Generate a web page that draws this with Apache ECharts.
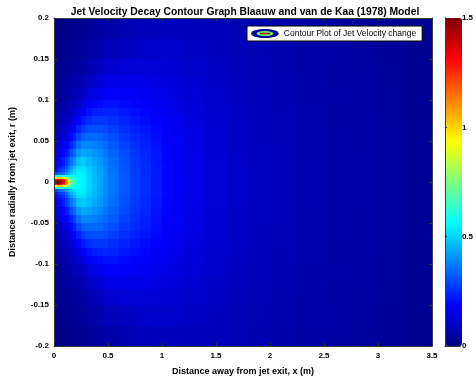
<!DOCTYPE html>
<html><head><meta charset="utf-8">
<script src="https://cdn.jsdelivr.net/npm/echarts@6/dist/echarts.min.js"></script>
<style>html,body{margin:0;padding:0;background:#fff}#c{width:476px;height:383px}</style>
</head><body><div id="c"></div>
<script>
// Column edges along the jet axis (m) and radial band edges (m, upper half; the field is symmetric about r = 0)
const xEdges = [0,0.025,0.05,0.075,0.1,0.125,0.15,0.175,0.2,0.25,0.3,0.35,0.4,0.45,0.5,0.6,0.7,0.8,0.9,1.0,1.1,1.2,1.4,1.6,1.8,2.0,2.25,2.5,2.75,3.0,3.25,3.5];
const rEdges = [0,0.002,0.004,0.006,0.008,0.012,0.016,0.02,0.03,0.04,0.05,0.06,0.07,0.08,0.09,0.1,0.115,0.13,0.15,0.175,0.2];
// Velocity: one radial profile (r = 0 outward) per x column
const speed = [
  [1.42,1.3,0.95,0.55,0.3,0.22,0.19,0.16,0.13,0.11,0.09,0.075,0.062,0.052,0.043,0.035,0.027,0.02,0.013,0.008],
  [1.5,1.38,1.02,0.6,0.32,0.24,0.21,0.18,0.145,0.12,0.1,0.083,0.068,0.057,0.047,0.038,0.03,0.022,0.015,0.01],
  [1.45,1.34,1.0,0.62,0.34,0.27,0.235,0.2,0.165,0.135,0.112,0.092,0.076,0.063,0.052,0.042,0.033,0.025,0.017,0.012],
  [1.32,1.22,0.93,0.6,0.37,0.3,0.265,0.23,0.19,0.155,0.127,0.103,0.085,0.07,0.058,0.047,0.037,0.028,0.02,0.014],
  [1.12,1.05,0.84,0.58,0.41,0.35,0.31,0.27,0.22,0.18,0.147,0.118,0.096,0.079,0.065,0.052,0.041,0.031,0.022,0.016],
  [0.9,0.86,0.74,0.57,0.45,0.4,0.36,0.31,0.255,0.21,0.17,0.136,0.11,0.09,0.073,0.058,0.045,0.034,0.024,0.018],
  [0.72,0.7,0.64,0.56,0.49,0.45,0.41,0.36,0.3,0.245,0.2,0.16,0.127,0.102,0.082,0.064,0.05,0.037,0.027,0.02],
  [0.62,0.61,0.59,0.56,0.52,0.49,0.46,0.41,0.345,0.285,0.23,0.182,0.143,0.113,0.09,0.07,0.054,0.04,0.029,0.022],
  [0.56,0.56,0.56,0.555,0.55,0.53,0.51,0.47,0.41,0.35,0.29,0.235,0.185,0.145,0.113,0.086,0.064,0.047,0.034,0.026],
  [0.55,0.55,0.55,0.545,0.54,0.53,0.515,0.49,0.44,0.385,0.33,0.275,0.225,0.18,0.142,0.107,0.079,0.057,0.04,0.03],
  [0.5,0.5,0.5,0.498,0.495,0.49,0.48,0.46,0.425,0.385,0.34,0.295,0.25,0.207,0.168,0.13,0.097,0.07,0.049,0.036],
  [0.465,0.465,0.465,0.463,0.46,0.456,0.45,0.435,0.41,0.378,0.342,0.303,0.264,0.226,0.19,0.152,0.116,0.085,0.059,0.043],
  [0.43,0.43,0.43,0.429,0.427,0.424,0.419,0.407,0.387,0.362,0.332,0.3,0.267,0.234,0.202,0.167,0.131,0.098,0.069,0.05],
  [0.4,0.4,0.4,0.399,0.398,0.395,0.391,0.382,0.366,0.345,0.321,0.295,0.267,0.238,0.21,0.178,0.143,0.109,0.078,0.057],
  [0.36,0.36,0.36,0.36,0.358,0.356,0.353,0.346,0.334,0.318,0.299,0.278,0.256,0.233,0.21,0.183,0.152,0.12,0.088,0.065],
  [0.315,0.315,0.315,0.315,0.314,0.312,0.31,0.305,0.296,0.284,0.27,0.254,0.237,0.219,0.2,0.178,0.153,0.126,0.097,0.074],
  [0.28,0.28,0.28,0.28,0.279,0.278,0.276,0.272,0.265,0.256,0.245,0.233,0.219,0.205,0.19,0.172,0.151,0.128,0.103,0.081],
  [0.25,0.25,0.25,0.25,0.249,0.248,0.247,0.244,0.239,0.232,0.224,0.214,0.203,0.192,0.18,0.165,0.148,0.129,0.107,0.087],
  [0.222,0.222,0.222,0.222,0.222,0.221,0.22,0.218,0.214,0.209,0.203,0.196,0.188,0.179,0.169,0.157,0.143,0.127,0.109,0.091],
  [0.197,0.197,0.197,0.197,0.197,0.196,0.196,0.194,0.191,0.187,0.183,0.178,0.172,0.165,0.158,0.149,0.138,0.125,0.109,0.094],
  [0.177,0.177,0.177,0.177,0.177,0.177,0.176,0.175,0.173,0.17,0.167,0.163,0.158,0.153,0.147,0.14,0.131,0.12,0.107,0.094],
  [0.152,0.152,0.152,0.152,0.152,0.152,0.151,0.15,0.149,0.147,0.145,0.142,0.139,0.135,0.131,0.126,0.119,0.111,0.101,0.091],
  [0.128,0.128,0.128,0.128,0.128,0.128,0.128,0.127,0.126,0.125,0.123,0.121,0.119,0.117,0.114,0.11,0.106,0.1,0.093,0.086],
  [0.11,0.11,0.11,0.11,0.11,0.11,0.11,0.109,0.109,0.108,0.107,0.105,0.104,0.102,0.1,0.097,0.094,0.09,0.085,0.079],
  [0.096,0.096,0.096,0.096,0.096,0.096,0.096,0.096,0.095,0.095,0.094,0.093,0.092,0.09,0.089,0.087,0.084,0.081,0.077,0.073],
  [0.084,0.084,0.084,0.084,0.084,0.084,0.084,0.084,0.083,0.083,0.082,0.081,0.08,0.079,0.078,0.076,0.074,0.072,0.069,0.066],
  [0.074,0.074,0.074,0.074,0.074,0.074,0.074,0.074,0.073,0.073,0.072,0.072,0.071,0.07,0.069,0.068,0.066,0.064,0.061,0.058],
  [0.065,0.065,0.065,0.065,0.065,0.065,0.065,0.065,0.064,0.064,0.064,0.063,0.062,0.062,0.061,0.06,0.058,0.056,0.054,0.051],
  [0.057,0.057,0.057,0.057,0.057,0.057,0.057,0.057,0.056,0.056,0.056,0.055,0.055,0.054,0.053,0.052,0.051,0.049,0.047,0.044],
  [0.046,0.046,0.046,0.046,0.046,0.046,0.046,0.046,0.046,0.045,0.045,0.045,0.044,0.044,0.043,0.042,0.041,0.04,0.038,0.036],
  [0.033,0.033,0.033,0.033,0.033,0.033,0.033,0.033,0.033,0.033,0.032,0.032,0.032,0.031,0.031,0.03,0.03,0.029,0.027,0.026]
];
const xRange = [0, 3.5], xStep = 0.5;
const rRange = [-0.2, 0.2], rStep = 0.05;
const cRange = [0, 1.5], cStep = 0.5;
const jet = ['#00007F','#0000FF','#007FFF','#00FFFF','#7FFF7F','#FFFF00','#FF7F00','#FF0000','#7F0000'];
const titleText = 'Jet Velocity Decay Contour Graph Blaauw and van de Kaa (1978) Model';
const xName = 'Distance away from jet exit, x (m)';
const yName = 'Distance radially from jet exit, r (m)';
const seriesName = 'Contour Plot of Jet Velocity change';

const cells = [];
for (let i = 0; i < speed.length; i++) {
  for (let j = 0; j < speed[i].length; j++) {
    const v = speed[i][j];
    cells.push([xEdges[i], xEdges[i+1], rEdges[j], rEdges[j+1], v]);
    cells.push([xEdges[i], xEdges[i+1], -rEdges[j+1], -rEdges[j], v]);
  }
}

const FONT = 'Liberation Sans';
const lbl = {color:'#000', fontFamily:FONT, fontWeight:'bold', fontSize:8};
const G = {left:52, top:18, width:380, height:328};
const CB = {left:445, top:18, width:17, height:328};

function axisLineOnly(extra){
  return Object.assign({axisLine:{show:true, lineStyle:{color:'#3a3a3a', width:1}}, axisTick:{show:false}, axisLabel:{show:false}, splitLine:{show:false}, z:10}, extra);
}

const chart = echarts.init(document.getElementById('c'), null, {renderer:'canvas'});
chart.setOption({
  animation:false,
  backgroundColor:'#fff',
  title:{text:titleText, left:240, textAlign:'center', top:2, textStyle:{fontFamily:FONT, fontWeight:'bold', fontSize:10.3, color:'#000'}},
  grid:[Object.assign({}, G), Object.assign({}, CB)],
  xAxis:[
    {type:'value', gridIndex:0, min:xRange[0], max:xRange[1], interval:xStep, position:'bottom',
     name:xName, nameLocation:'middle', nameGap:21, nameTextStyle:Object.assign({}, lbl, {fontSize:9}),
     axisLine:{show:true, onZero:false, lineStyle:{color:'#3a3a3a'}}, axisTick:{show:true, inside:true, length:3, lineStyle:{color:'#333'}},
     axisLabel:Object.assign({margin:6}, lbl), splitLine:{show:false}, z:10},
    {type:'value', gridIndex:0, min:xRange[0], max:xRange[1], interval:xStep, position:'top',
     axisLine:{show:true, onZero:false, lineStyle:{color:'#3a3a3a'}}, axisTick:{show:true, inside:true, length:3, lineStyle:{color:'#333'}},
     axisLabel:{show:false}, splitLine:{show:false}, z:10},
    axisLineOnly({type:'value', gridIndex:1, min:0, max:1, position:'bottom'}),
    axisLineOnly({type:'value', gridIndex:1, min:0, max:1, position:'top'})
  ],
  yAxis:[
    {type:'value', gridIndex:0, min:rRange[0], max:rRange[1], interval:rStep, position:'left',
     name:yName, nameLocation:'middle', nameGap:37, nameTextStyle:Object.assign({}, lbl, {fontSize:9}),
     axisLine:{show:true, onZero:false, lineStyle:{color:'#3a3a3a'}}, axisTick:{show:true, inside:true, length:3, lineStyle:{color:'#333'}},
     axisLabel:Object.assign({margin:5}, lbl), splitLine:{show:false}, z:10},
    {type:'value', gridIndex:0, min:rRange[0], max:rRange[1], interval:rStep, position:'right',
     axisLine:{show:true, onZero:false, lineStyle:{color:'#3a3a3a'}}, axisTick:{show:true, inside:true, length:3, lineStyle:{color:'#333'}},
     axisLabel:{show:false}, splitLine:{show:false}, z:10},
    {type:'value', gridIndex:1, min:cRange[0], max:cRange[1], interval:cStep, position:'right',
     axisLine:{show:true, lineStyle:{color:'#3a3a3a'}}, axisTick:{show:true, inside:false, length:2, lineStyle:{color:'#333'}},
     axisLabel:Object.assign({margin:2}, lbl), splitLine:{show:false}, z:10},
    axisLineOnly({type:'value', gridIndex:1, min:cRange[0], max:cRange[1], position:'left'})
  ],
  visualMap:{type:'continuous', min:cRange[0], max:cRange[1], dimension:4, seriesIndex:0,
    inRange:{color:jet}, left:CB.left, top:CB.top, itemWidth:CB.width, itemHeight:CB.height,
    padding:0, calculable:false, hoverLink:false, text:null, z:1},
  legend:{show:true, left:247, top:26, orient:'horizontal', padding:[3,6,3,4], itemWidth:28, itemHeight:9, itemGap:4,
    backgroundColor:'#fff', borderColor:'#000', borderWidth:1, borderRadius:0,
    textStyle:{fontFamily:FONT, fontSize:8.5, color:'#000'},
    data:[{name:seriesName, icon:'path://M0,5 C0,-1.5 30,-1.5 30,5 C30,11.5 0,11.5 0,5 Z', itemStyle:{color:'#00008F'}}]},
  series:[{
    type:'custom', name:seriesName, xAxisIndex:0, yAxisIndex:0, clip:true, silent:true,
    encode:{x:[0,1], y:[2,3]},
    data:cells,
    renderItem:function(params, api){
      const a = api.coord([api.value(0), api.value(3)]);
      const b = api.coord([api.value(1), api.value(2)]);
      const x0 = Math.round(a[0]), x1 = Math.round(b[0]);
      const y0 = Math.round(a[1]), y1 = Math.round(b[1]);
      return {type:'rect', shape:{x:x0, y:y0, width:x1-x0, height:y1-y0}, style:{fill:api.visual('color'), stroke:null}};
    }
  }],
  graphic:[
    {type:'ellipse', shape:{cx:265, cy:33.5, rx:8.5, ry:2.6}, style:{fill:'#66EE66'}, z:100, silent:true},
    {type:'rect', shape:{x:260, y:32.8, width:10, height:1.4}, style:{fill:'#B00000'}, z:101, silent:true}
  ]
});
</script>
</body></html>
